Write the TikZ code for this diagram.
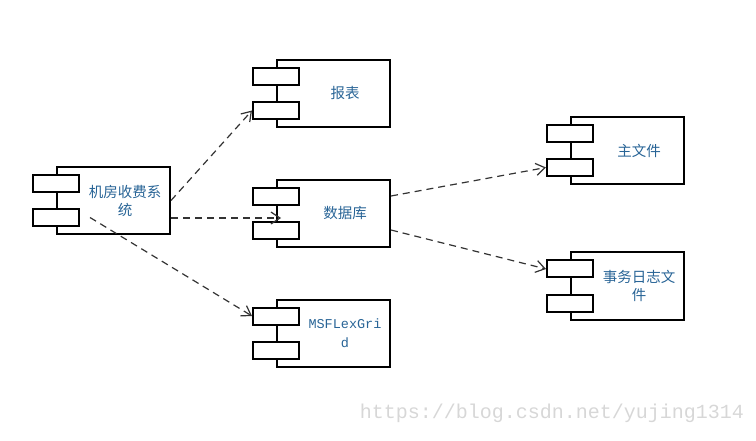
\documentclass[tikz,border=0pt]{standalone}
\usepackage{fontspec}
\setmainfont{Noto Sans CJK SC}
\setmonofont{Liberation Mono}
\usetikzlibrary{calc}
\usetikzlibrary{arrows.meta}
\definecolor{lblue}{RGB}{40,100,150}
\definecolor{wgray}{RGB}{215,215,215}

\begin{document}
\begin{tikzpicture}[x=1pt,y=-1pt,
    comp/.style={draw,line width=2pt,minimum width=113pt,minimum height=67pt,inner sep=0pt},
    port/.style={draw,fill=white,line width=2pt,minimum width=46pt,minimum height=17pt,inner sep=0pt},
    lbl/.style={text=lblue,font=\fontsize{14.5}{18}\selectfont,align=center},
    dep/.style={dash pattern=on 7pt off 5pt,line width=1.2pt,black!80,-{Straight Barb[length=9pt,width=12pt]}}]
    \useasboundingbox (0,0) rectangle (756,441);
    % components
    \foreach \n/\x/\y in {sys/113.5/200.5, bao/333.5/93.5, db/333.5/213.5, msf/333.5/333, zhu/627.5/150.5, shi/627.5/286}{
        \node[comp] (\n) at (\x,\y) {};
        \node[port] (\n-a) at ($(\n.west)+(0,-17)$) {};
        \node[port] (\n-b) at ($(\n.west)+(0,17)$) {};
    }
    \node[lbl] (sys-t) at ($(sys)+(11.5,0)$) {机房收费系\\统};
    \node[lbl] (bao-t) at ($(bao)+(11.5,0)$) {报表};
    \node[lbl] (db-t) at ($(db)+(11.5,0)$) {数据库};
    \node[lbl,font=\ttfamily\fontsize{13.5}{19}\selectfont] (msf-t) at ($(msf)+(11.5,0)$) {MSFLexGri\\d};
    \node[lbl] (zhu-t) at ($(zhu)+(11.5,0)$) {主文件};
    \node[lbl] (shi-t) at ($(shi)+(11.5,0)$) {事务日志文\\件};
    % dependencies
    \draw[dep] (sys.east) -- (bao-b.west);
    \draw[dep] ($(sys.east)+(0,17.5)$) -- ($(db.west)+(5,4.5)$);
    \draw[dep] ($(sys-b.east)+(10,0)$) -- (msf-a.west);
    \draw[dep] ($(db.east)+(0,-17.5)$) -- (zhu-b.west);
    \draw[dep] ($(db.east)+(0,16.5)$) -- (shi-a.west);
    \node[text=wgray,font=\ttfamily\fontsize{20}{20}\selectfont] (url) at (552,413) {https://blog.csdn.net/yujing1314};
\end{tikzpicture}
\end{document}
